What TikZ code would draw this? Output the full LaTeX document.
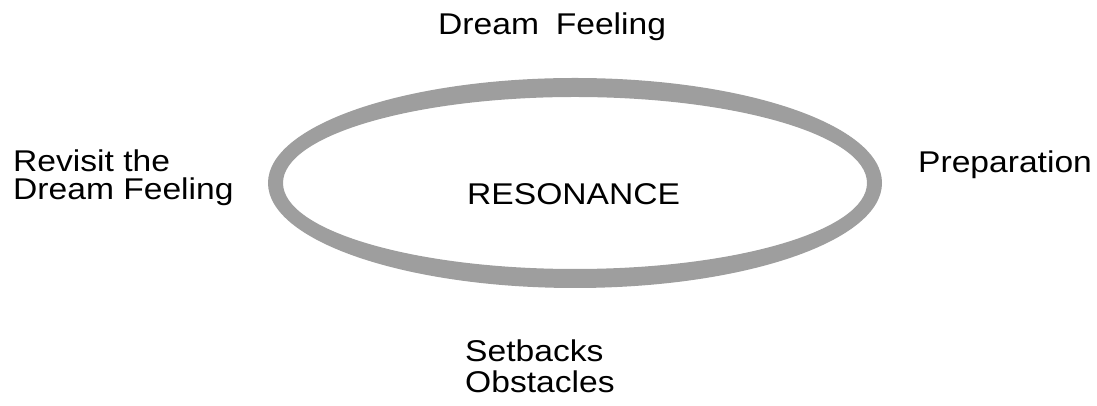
\documentclass[tikz,border=0pt]{standalone}
\usepackage{fontspec}
\setmainfont{Liberation Sans}[FakeStretch=1.12]
\definecolor{ringgray}{RGB}{158,158,158}
\begin{document}
\begin{tikzpicture}[x=1pt,y=1pt,
  lbl/.style={inner sep=0pt,anchor=base west,font=\fontsize{30}{30}\selectfont,text=black}]
\useasboundingbox (0,0) rectangle (1097,406);
% ring
\fill[ringgray,even odd rule] (575,223) ellipse [x radius=307,y radius=105]
      (575,223) ellipse [x radius=292,y radius=86];
\node[lbl] (center) at (467,201) {RESONANCE};
\node[lbl] (top) at (438,371) {Dream\hspace{0.25em} Feeling};
\node[lbl] (left1) at (13,234) {Revisit the};
\node[lbl] (left2) at (13,206) {Dream Feeling};
\node[lbl] (right) at (918,233) {Preparation};
\node[lbl] (bot1) at (465,44) {Setbacks};
\node[lbl] (bot2) at (465,13) {Obstacles};
\end{tikzpicture}
\end{document}
